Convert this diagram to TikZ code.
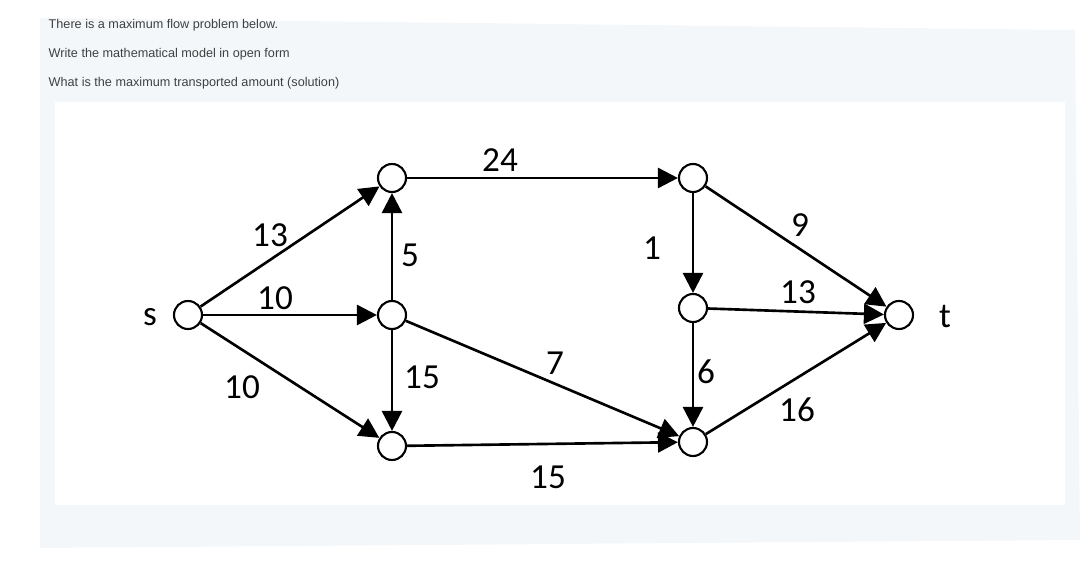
\documentclass[tikz,border=0pt]{standalone}
\usepackage{fontspec}
\setmainfont{Carlito}
\newfontfamily\hdr{Liberation Sans}
\usetikzlibrary{arrows.meta}
\begin{document}
\begin{tikzpicture}[x=0.01cm,y=-0.01cm,
  vtx/.style={circle,draw,line width=0.6pt,minimum size=0.28cm,inner sep=0pt},
  edge/.style={line width=0.75pt,-{Triangle[length=0.2cm,width=0.2cm]}},
  lbl/.style={font=\fontsize{10}{12}\selectfont},
  hd/.style={anchor=west,font=\hdr\fontsize{3.6}{4}\selectfont,text=black!75,inner sep=0pt}]
\useasboundingbox (0,0) rectangle (1087,567);
\fill[fill={rgb,255:red,244;green,247;blue,250}] (40,18) -- (1075,30) -- (1080,540) -- (40,548) -- cycle;
\fill[white] (55,102) rectangle (1065,505);
\node[hd] (h1) at (48,25) {There is a maximum flow problem below.};
\node[hd] (h2) at (48,54) {Write the mathematical model in open form};
\node[hd] (h3) at (48,83) {What is the maximum transported amount (solution)};
\node[vtx] (s) at (188,315) {};
\node[vtx] (a) at (392,178) {};
\node[vtx] (b) at (392,315) {};
\node[vtx] (c) at (392,446) {};
\node[vtx] (d) at (693,178) {};
\node[vtx] (e) at (693,308) {};
\node[vtx] (f) at (693,442) {};
\node[vtx] (t) at (899,315) {};
\node[lbl] (ls) at (150,317) {s};
\node[lbl] (lt) at (945,317) {t};
\draw[edge] (s) -- (a);
\draw[edge] (s) -- (b);
\draw[edge] (s) -- (c);
\draw[edge] (b) -- (a);
\draw[edge] (b) -- (c);
\draw[edge] (a) -- (d);
\draw[edge] (b) -- (f);
\draw[edge] (c) -- (f);
\draw[edge] (d) -- (e);
\draw[edge] (d) -- (t);
\draw[edge] (e) -- (t);
\draw[edge] (e) -- (f);
\draw[edge] (f) -- (t);
\node[lbl] (l1) at (270,235) {13};
\node[lbl] (l2) at (275,298) {10};
\node[lbl] (l3) at (242,387) {10};
\node[lbl] (l4) at (410,255) {5};
\node[lbl] (l5) at (422,377) {15};
\node[lbl] (l6) at (500,160) {24};
\node[lbl] (l7) at (555,363) {7};
\node[lbl] (l8) at (548,477) {15};
\node[lbl] (l9) at (652,248) {1};
\node[lbl] (l10) at (798,292) {13};
\node[lbl] (l11) at (800,225) {9};
\node[lbl] (l12) at (706,372) {6};
\node[lbl] (l13) at (797,410) {16};
\end{tikzpicture}
\end{document}
